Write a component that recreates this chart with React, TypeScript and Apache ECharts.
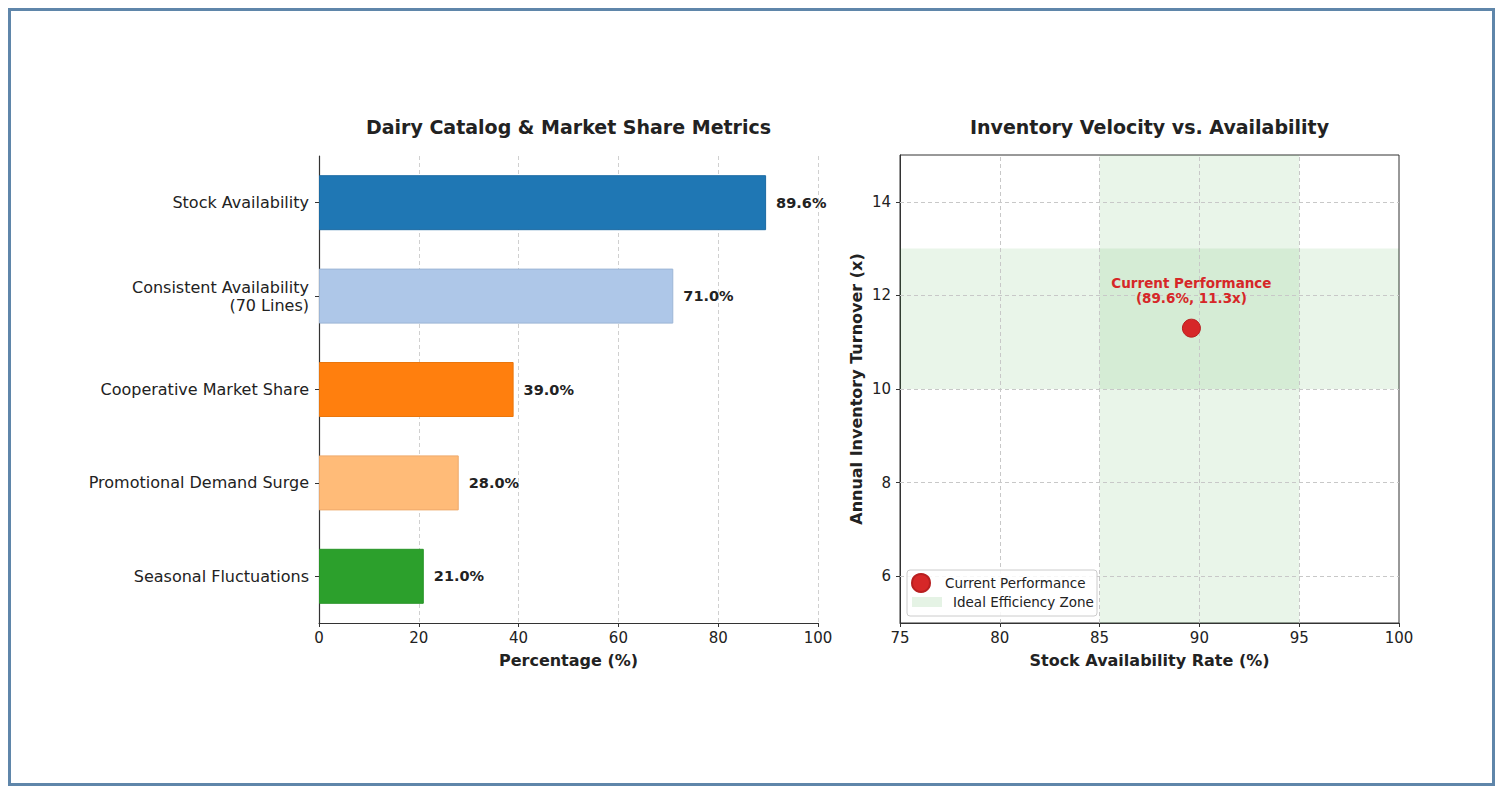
import React, { useEffect, useRef } from "react";
import * as echarts from "echarts";

const categories = [
  "Stock Availability",
  "Consistent Availability\n(70 Lines)",
  "Cooperative Market Share",
  "Promotional Demand Surge",
  "Seasonal Fluctuations",
];
const values = [89.6, 71.0, 39.0, 28.0, 21.0];
const barColors = ["#1f77b4", "#aec7e8", "#ff7f0e", "#ffbb78", "#2ca02c"];
const barEdges = ["#1c6ba3", "#9db6d6", "#ea760c", "#eeaa6c", "#289428"];

const perfPoint = [89.6, 11.3];
const xZone = [85, 95];
const yZone = [10, 13];
const yTicks = [6, 8, 10, 12, 14];
const xGridVals = [80, 85, 90, 95];

const FONT = "DejaVu Sans";
const TXT = "#222222";

export default function App() {
  const ref = useRef<HTMLDivElement>(null);
  useEffect(() => {
    if (!ref.current) return;
    const chart = echarts.init(ref.current, null, { renderer: "svg" });
    const option: any = {
      animation: false,
      textStyle: { fontFamily: FONT },
      title: [
        {
          text: "Dairy Catalog & Market Share Metrics",
          left: 557.5,
          top: 106,
          textAlign: "center",
          padding: 0,
          textStyle: { fontFamily: FONT, fontSize: 19, fontWeight: "bold", color: TXT },
        },
        {
          text: "Inventory Velocity vs. Availability",
          left: 1138.5,
          top: 106,
          textAlign: "center",
          padding: 0,
          textStyle: { fontFamily: FONT, fontSize: 19, fontWeight: "bold", color: TXT },
        },
      ],
      grid: [
        { left: 308, width: 499, top: 145, height: 467 },
        { left: 889, width: 499, top: 144, height: 468, show: true, borderColor: "#333", borderWidth: 1, backgroundColor: "transparent" },
      ],
      xAxis: [
        {
          gridIndex: 0,
          type: "value",
          min: 0,
          max: 100,
          interval: 20,
          name: "Percentage (%)",
          nameLocation: "middle",
          nameGap: 29,
          nameTextStyle: { fontFamily: FONT, fontSize: 16, fontWeight: "bold", color: TXT },
          axisLine: { show: true, lineStyle: { color: "#333", width: 1.2 } },
          axisTick: { show: true, length: 4, lineStyle: { color: "#333" } },
          axisLabel: { fontFamily: FONT, fontSize: 15, color: TXT, margin: 7 },
          splitLine: { show: true, lineStyle: { color: "#d0d0d0", type: [4, 3], width: 1 } },
        },
        {
          gridIndex: 1,
          type: "value",
          min: 75,
          max: 100,
          interval: 5,
          name: "Stock Availability Rate (%)",
          nameLocation: "middle",
          nameGap: 29,
          nameTextStyle: { fontFamily: FONT, fontSize: 16, fontWeight: "bold", color: TXT },
          axisLine: { show: true, lineStyle: { color: "#333", width: 1 } },
          axisTick: { show: true, length: 4, lineStyle: { color: "#333" } },
          axisLabel: { fontFamily: FONT, fontSize: 15, color: TXT, margin: 7 },
          splitLine: { show: false },
        },
      ],
      yAxis: [
        {
          gridIndex: 0,
          type: "category",
          data: categories,
          inverse: true,
          axisLine: { show: true, lineStyle: { color: "#333", width: 1.2 } },
          axisTick: { show: true, alignWithLabel: true, length: 4, lineStyle: { color: "#333" } },
          axisLabel: { fontFamily: FONT, fontSize: 16, color: TXT, margin: 10, lineHeight: 18, align: "right" },
          splitLine: { show: false },
        },
        {
          gridIndex: 1,
          type: "value",
          min: 5,
          max: 15,
          name: "Annual Inventory Turnover (x)",
          nameLocation: "middle",
          nameGap: 36,
          nameTextStyle: { fontFamily: FONT, fontSize: 16, fontWeight: "bold", color: TXT },
          axisLine: { show: true, lineStyle: { color: "#333", width: 1 } },
          axisTick: { show: true, length: 4, customValues: yTicks, lineStyle: { color: "#333" } },
          axisLabel: { fontFamily: FONT, fontSize: 15, color: TXT, margin: 9, customValues: yTicks },
          splitLine: { show: false },
        },
      ],
      legend: [
        {
          data: [{ name: "Current Performance", icon: "circle" }],
          left: 900,
          top: 562,
          padding: 0,
          itemWidth: 38,
          itemHeight: 18,
          selectedMode: false,
          textStyle: { fontFamily: FONT, fontSize: 13.5, color: TXT },
          z: 10,
        },
        {
          data: [{ name: "Ideal Efficiency Zone", icon: "rect" }],
          left: 901,
          top: 584,
          padding: 0,
          itemWidth: 30,
          itemHeight: 10,
          selectedMode: false,
          textStyle: { fontFamily: FONT, fontSize: 13.5, color: TXT, padding: [0, 0, 0, 6] },
          z: 10,
        },
      ],
      graphic: [
        {
          type: "rect",
          z: 8,
          shape: { x: 896, y: 559, width: 190, height: 46, r: 3 },
          style: { fill: "rgba(255,255,255,0.85)", stroke: "#cccccc", lineWidth: 1 },
          silent: true,
        },
      ],
      series: [
        {
          type: "bar",
          xAxisIndex: 0,
          yAxisIndex: 0,
          barWidth: 55,
          data: values.map((v, i) => ({
            value: v,
            itemStyle: { color: barColors[i], borderColor: barEdges[i], borderWidth: 1 },
          })),
          label: {
            show: true,
            position: "right",
            distance: 10,
            formatter: (p: any) => `${Number(p.value).toFixed(1)}%`,
            fontFamily: FONT,
            fontSize: 14.5,
            fontWeight: "bold",
            color: TXT,
          },
        },
        {
          name: "Ideal Efficiency Zone",
          type: "scatter",
          xAxisIndex: 1,
          yAxisIndex: 1,
          data: [],
          itemStyle: { color: "rgba(44,160,44,0.12)", borderWidth: 0, opacity: 1 },
          markArea: {
            silent: true,
            itemStyle: { color: "rgba(44,160,44,0.1)" },
            data: [
              [{ xAxis: xZone[0] }, { xAxis: xZone[1] }],
              [{ yAxis: yZone[0] }, { yAxis: yZone[1] }],
            ],
          },
          markLine: {
            silent: true,
            symbol: "none",
            label: { show: false },
            lineStyle: { color: "#c8c8c8", type: [4, 3], width: 1 },
            data: [
              ...xGridVals.map((v) => ({ xAxis: v })),
              ...yTicks.map((v) => ({ yAxis: v })),
            ],
          },
        },
        {
          name: "Current Performance",
          type: "scatter",
          xAxisIndex: 1,
          yAxisIndex: 1,
          symbolSize: 18,
          z: 5,
          itemStyle: { color: "#d62728", borderColor: "#b81f20", borderWidth: 1, opacity: 1 },
          data: [perfPoint],
          label: {
            show: true,
            position: "top",
            distance: 13,
            formatter: "Current Performance\n(89.6%, 11.3x)",
            fontFamily: FONT,
            fontSize: 13.5,
            fontWeight: "bold",
            lineHeight: 15,
            color: "#d62728",
            align: "center",
          },
        },
      ],
    };
    chart.setOption(option);
    return () => chart.dispose();
  }, []);

  return (
    <div
      style={{
        width: 1487,
        height: 778,
        border: "3px solid #5f86aa",
        boxSizing: "border-box",
        background: "#fff",
      }}
    >
      <div ref={ref} style={{ width: 1481, height: 772 }} />
    </div>
  );
}
